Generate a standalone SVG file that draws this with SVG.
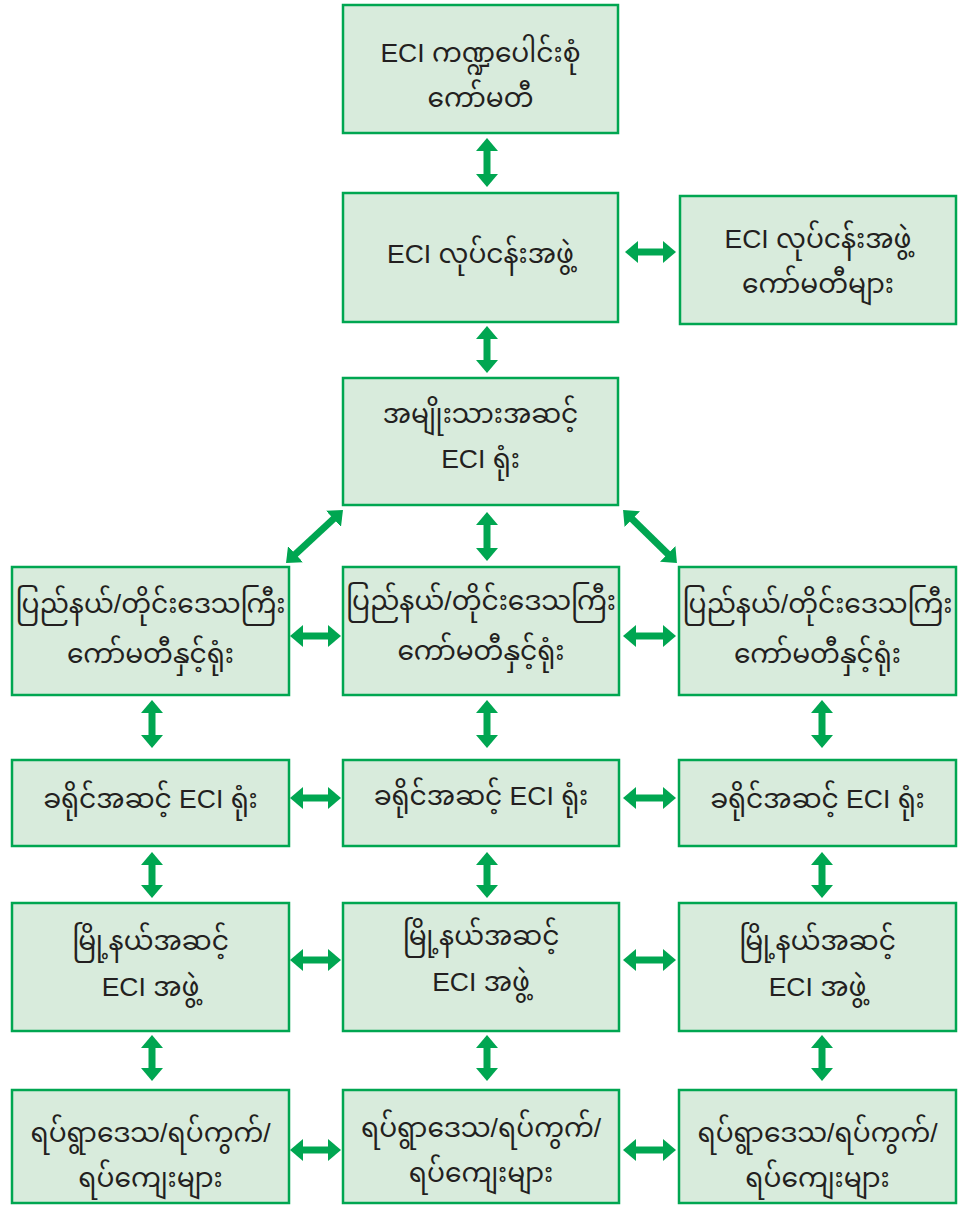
<svg xmlns="http://www.w3.org/2000/svg" width="958" height="1207" viewBox="0 0 958 1207">
<style>
.box{fill:#d8ebdc;stroke:#00a651;stroke-width:2.5}
.t{font-family:'Liberation Sans','Noto Sans Myanmar','Padauk','Myanmar Text','Noto Sans',sans-serif;font-size:26.5px;fill:#231f20;text-anchor:middle}
.c{stroke:#00a651;stroke-width:7;fill:none;marker-start:url(#ah);marker-end:url(#ah)}
</style>
<defs>
<marker id="ah" markerUnits="userSpaceOnUse" markerWidth="13" markerHeight="22" viewBox="0 0 13 22" refX="1" refY="11" orient="auto-start-reverse">
<path d="M0,0 L13,11 L0,22 z" fill="#00a651"/>
</marker>
</defs>
<rect width="958" height="1207" fill="#ffffff"/>
<g id="connectors">
<line class="c" x1="487" y1="150" x2="487" y2="175"/>
<line class="c" x1="637" y1="252" x2="664" y2="252"/>
<line class="c" x1="487" y1="338" x2="487" y2="361"/>
<line class="c" x1="487" y1="524" x2="487" y2="549"/>
<line class="c" x1="334.2" y1="518.2" x2="294.8" y2="554.8"/>
<line class="c" x1="631.6" y1="518.4" x2="668.4" y2="554.6"/>
<line class="c" x1="302" y1="636" x2="329" y2="636"/>
<line class="c" x1="635" y1="636" x2="664" y2="636"/>
<line class="c" x1="152" y1="712" x2="152" y2="736"/>
<line class="c" x1="487" y1="712" x2="487" y2="736"/>
<line class="c" x1="822" y1="712" x2="822" y2="736"/>
<line class="c" x1="302" y1="798" x2="329" y2="798"/>
<line class="c" x1="635" y1="798" x2="664" y2="798"/>
<line class="c" x1="152" y1="864" x2="152" y2="886"/>
<line class="c" x1="487" y1="864" x2="487" y2="886"/>
<line class="c" x1="822" y1="864" x2="822" y2="886"/>
<line class="c" x1="302" y1="960" x2="329" y2="960"/>
<line class="c" x1="635" y1="960" x2="664" y2="960"/>
<line class="c" x1="152" y1="1047" x2="152" y2="1069"/>
<line class="c" x1="487" y1="1047" x2="487" y2="1069"/>
<line class="c" x1="822" y1="1047" x2="822" y2="1069"/>
<line class="c" x1="302" y1="1150" x2="329" y2="1150"/>
<line class="c" x1="635" y1="1150" x2="664" y2="1150"/>
</g>
<g id="n1"><rect class="box" x="343" y="5" width="275" height="128"/>
<text class="t" x="480.5" y="62">ECI ကဏ္ဍပေါင်းစုံ</text>
<text class="t" x="480.5" y="107">ကော်မတီ</text></g>
<g id="n2"><rect class="box" x="343" y="193" width="275" height="129"/>
<text class="t" x="480.5" y="263">ECI လုပ်ငန်းအဖွဲ့</text></g>
<g id="n3"><rect class="box" x="680" y="196" width="276" height="128"/>
<text class="t" x="818" y="248">ECI လုပ်ငန်းအဖွဲ့</text>
<text class="t" x="818" y="293">ကော်မတီများ</text></g>
<g id="n4"><rect class="box" x="343" y="378" width="275" height="127"/>
<text class="t" x="480.5" y="423">အမျိုးသားအဆင့်</text>
<text class="t" x="480.5" y="468">ECI ရုံး</text></g>
<g id="n5"><rect class="box" x="12" y="567" width="277" height="128"/>
<text class="t" x="150.5" y="613">ပြည်နယ်/တိုင်းဒေသကြီး</text>
<text class="t" x="150.5" y="663">ကော်မတီနှင့်ရုံး</text></g>
<g id="n6"><rect class="box" x="343" y="567" width="276" height="128"/>
<text class="t" x="481" y="610">ပြည်နယ်/တိုင်းဒေသကြီး</text>
<text class="t" x="481" y="660">ကော်မတီနှင့်ရုံး</text></g>
<g id="n7"><rect class="box" x="679" y="567" width="277" height="128"/>
<text class="t" x="817.5" y="613">ပြည်နယ်/တိုင်းဒေသကြီး</text>
<text class="t" x="817.5" y="663">ကော်မတီနှင့်ရုံး</text></g>
<g id="n8"><rect class="box" x="12" y="760" width="277" height="86"/>
<text class="t" x="150.5" y="808">ခရိုင်အဆင့် ECI ရုံး</text></g>
<g id="n9"><rect class="box" x="343" y="760" width="276" height="86"/>
<text class="t" x="481" y="805">ခရိုင်အဆင့် ECI ရုံး</text></g>
<g id="n10"><rect class="box" x="679" y="760" width="277" height="86"/>
<text class="t" x="817.5" y="808">ခရိုင်အဆင့် ECI ရုံး</text></g>
<g id="n11"><rect class="box" x="12" y="903" width="277" height="128"/>
<text class="t" x="150.5" y="950">မြို့နယ်အဆင့်</text>
<text class="t" x="150.5" y="996">ECI အဖွဲ့</text></g>
<g id="n12"><rect class="box" x="343" y="903" width="276" height="128"/>
<text class="t" x="481" y="945">မြို့နယ်အဆင့်</text>
<text class="t" x="481" y="991">ECI အဖွဲ့</text></g>
<g id="n13"><rect class="box" x="679" y="903" width="277" height="128"/>
<text class="t" x="817.5" y="950">မြို့နယ်အဆင့်</text>
<text class="t" x="817.5" y="996">ECI အဖွဲ့</text></g>
<g id="n14"><rect class="box" x="12" y="1090" width="277" height="113"/>
<text class="t" x="150.5" y="1142">ရပ်ရွာဒေသ/ရပ်ကွက်/</text>
<text class="t" x="150.5" y="1187">ရပ်ကျေးများ</text></g>
<g id="n15"><rect class="box" x="343" y="1090" width="276" height="113"/>
<text class="t" x="481" y="1137">ရပ်ရွာဒေသ/ရပ်ကွက်/</text>
<text class="t" x="481" y="1182">ရပ်ကျေးများ</text></g>
<g id="n16"><rect class="box" x="679" y="1090" width="277" height="113"/>
<text class="t" x="817.5" y="1142">ရပ်ရွာဒေသ/ရပ်ကွက်/</text>
<text class="t" x="817.5" y="1187">ရပ်ကျေးများ</text></g>
</svg>
